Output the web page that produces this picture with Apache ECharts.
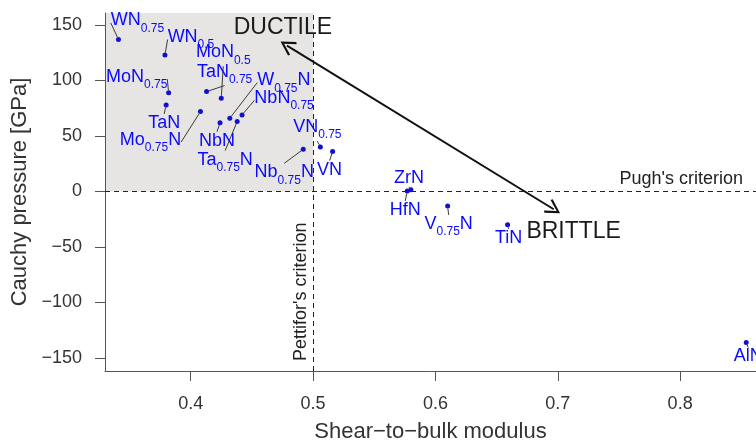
<!DOCTYPE html>
<html>
<head>
<meta charset="utf-8">
<script src="https://cdn.jsdelivr.net/npm/echarts@6/dist/echarts.min.js"></script>
<style>
html,body{margin:0;padding:0;background:#fff;}
#chart{width:756px;height:441px;}
</style>
</head>
<body>
<div id="chart"></div>
<script>
// ---- data ----
var compounds = ['WN0.75','WN0.5','MoN0.5','TaN0.75','MoN0.75','TaN','Mo0.75N','NbN','W0.75N','Ta0.75N','NbN0.75','VN0.75','Nb0.75N','VN','ZrN','HfN','V0.75N','TiN','AlN'];
var shearToBulk = [0.341,0.379,0.425,0.413,0.382,0.380,0.408,0.424,0.432,0.438,0.442,0.506,0.492,0.516,0.580,0.577,0.610,0.659,0.854];
var cauchyPressure = [137,123,84,90,89,78,72,62,66,63,69,40,38,36,1.5,0.5,-13,-30,-136];
var xTicks = [0.4,0.5,0.6,0.7,0.8];
var yTicks = [-150,-100,-50,0,50,100,150];
var pughCriterion = 0;
var pettiforCriterion = 0.5;
var arrowFrom = [0.4787,131.5];
var arrowTo = [0.6967,-16];
var annotations = [
  {text:'DUCTILE', at:[0.4754,147.7]},
  {text:'BRITTLE', at:[0.713,-36]}
];
// label offsets (px, label centre relative to point) - layout only
var labelShift = [[19,-18],[26,-17],[2,-45],[18,-19],[-32,-15],[-2,19],[-50,29],[-3,19],[54,-37],[-12,39],[42,-16],[-3,-19],[-19,24],[-3,19],[-2,-11],[-2,20],[1,19],[1,14],[2,15]];

var xMin = 0.33, xMax = 0.862, yMin = -161.7, yMax = 160.8;

var pts = compounds.map(function(c,i){ return [shearToBulk[i], cauchyPressure[i], c]; });
var blue = '#0a0aff';
var FONT = 'Liberation Sans, Arial, sans-serif';
function fmtName(n){
  return '{n|' + n.replace(/(\d\.\d+)/g, '}{s|$1}{n|') + '}';
}
function minus(v){ return String(v).replace('-', '\u2212'); }

var chart = echarts.init(document.getElementById('chart'), null, {renderer:'canvas'});
chart.setOption({
  animation:false,
  backgroundColor:'#ffffff',
  grid:{left:105, right:0, top:13, bottom:70, outerBoundsMode:'none', containLabel:false},
  xAxis:{
    type:'value', min:xMin, max:xMax,
    name:'Shear\u2212to\u2212bulk modulus', nameLocation:'middle', nameGap:50,
    nameTextStyle:{fontSize:22, color:'#333', fontFamily:FONT},
    axisLine:{show:true, onZero:false, lineStyle:{color:'#555', width:1}},
    axisTick:{show:true, length:10, customValues:xTicks, lineStyle:{color:'#555'}},
    axisLabel:{fontSize:18, color:'#333', margin:24, fontFamily:FONT, customValues:xTicks,
      formatter:function(v){ return minus(v); }},
    splitLine:{show:false}
  },
  yAxis:{
    type:'value', min:yMin, max:yMax,
    name:'Cauchy pressure [GPa]', nameLocation:'middle', nameGap:66,
    nameTextStyle:{fontSize:22, color:'#333', fontFamily:FONT},
    axisLine:{show:true, onZero:false, lineStyle:{color:'#555', width:1}},
    axisTick:{show:true, length:10, customValues:yTicks, lineStyle:{color:'#555'}},
    axisLabel:{fontSize:18, color:'#333', margin:23, fontFamily:FONT, customValues:yTicks,
      formatter:function(v){ return minus(v); }},
    splitLine:{show:false}
  },
  series:[
    {
      type:'scatter',
      data:pts,
      symbol:'circle', symbolSize:5,
      itemStyle:{color:'#1010d0', opacity:1},
      z:5,
      label:{
        show:true, position:'inside', align:'center', verticalAlign:'middle',
        color:blue, textBorderWidth:0, textBorderColor:'transparent', textShadowBlur:0, opacity:1,
        formatter:function(p){ return fmtName(p.data[2]); },
        rich:{
          n:{fontSize:18, lineHeight:20, verticalAlign:'top', color:blue, fontFamily:FONT, textBorderWidth:0, textBorderColor:'transparent'},
          s:{fontSize:12, lineHeight:12, padding:[11,0,0,0], verticalAlign:'top', color:blue, fontFamily:FONT, textBorderWidth:0, textBorderColor:'transparent'}
        }
      },
      labelLine:{show:true, lineStyle:{color:'#3a3a3a', width:1}},
      labelLayout:function(p){
        var s = labelShift[p.dataIndex];
        return {dx:s[0], dy:s[1]};
      },
      markArea:{
        silent:true,
        itemStyle:{color:'#e7e5e3'},
        data:[[{coord:[xMin, pughCriterion]},{coord:[pettiforCriterion, yMax]}]],
        z:-1
      },
      markLine:{
        silent:true, symbol:['none','none'],
        lineStyle:{color:'#222', type:[5,4], width:1},
        data:[
          {yAxis:pughCriterion, label:{show:true, position:'insideEndTop', formatter:"Pugh's criterion", fontSize:18, color:'#222', fontFamily:FONT, distance:[13,3]}},
          {xAxis:pettiforCriterion, label:{show:true, position:'insideStartTop', formatter:"Pettifor's criterion", fontSize:18, color:'#222', fontFamily:FONT, distance:[10,3]}}
        ]
      }
    },
    {
      type:'scatter', data:[], silent:true,
      markLine:{
        silent:true,
        symbol:['path://M0,0 L-7,12 L-5.4,13.2 L0,3.6 L5.4,13.2 L7,12 Z','path://M0,0 L-7,12 L-5.4,13.2 L0,3.6 L5.4,13.2 L7,12 Z'],
        symbolSize:[16,15],
        lineStyle:{color:'#111', type:'solid', width:2},
        label:{show:false},
        data:[[{coord:arrowFrom},{coord:arrowTo}]]
      },
      markPoint:{
        silent:true, symbol:'circle', symbolSize:0,
        label:{show:true, position:'inside', fontSize:23, color:'#1a1a1a', fontFamily:FONT,
          formatter:function(p){ return p.name; }},
        data:annotations.map(function(a){ return {name:a.text, coord:a.at}; })
      }
    }
  ]
});
</script>
</body>
</html>
